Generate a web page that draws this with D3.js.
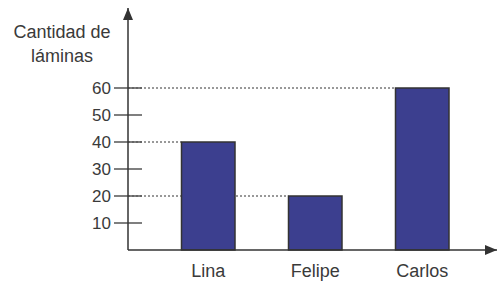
<!DOCTYPE html>
<html>
<head>
<meta charset="utf-8">
<script src="https://cdn.jsdelivr.net/npm/d3@7"></script>
<style>
  body { margin: 0; background: #fff; }
  text { font-family: "Liberation Sans", Arial, sans-serif; fill: #3a3a3a; }
</style>
</head>
<body>
<div id="chart"></div>
<script>
var names = ["Lina", "Felipe", "Carlos"];
var laminas = [40, 20, 60];
var tickValues = [10, 20, 30, 40, 50, 60];
var titleLines = ["Cantidad de", "láminas"];

var width = 497, height = 285;
var axisX = 128, axisY = 250;

var svg = d3.select("#chart").append("svg")
    .attr("width", width)
    .attr("height", height);

var x = d3.scaleBand()
    .domain(names)
    .range([axisX, 502.5])
    .paddingInner(0.5)
    .paddingOuter(0.5);

var y = d3.scaleLinear()
    .domain([0, 60])
    .range([axisY, 88]);

// dashed guide lines from the axis to each bar top
svg.append("g")
    .selectAll("line")
    .data(names)
    .enter()
    .append("line")
    .attr("x1", axisX)
    .attr("x2", function(d) { return x(d); })
    .attr("y1", function(d, i) { return y(laminas[i]); })
    .attr("y2", function(d, i) { return y(laminas[i]); })
    .attr("stroke", "#333")
    .attr("stroke-width", 1)
    .attr("stroke-dasharray", "2,2");

// bars
svg.append("g")
    .selectAll("rect")
    .data(names)
    .enter()
    .append("rect")
    .attr("x", function(d) { return x(d); })
    .attr("y", function(d, i) { return y(laminas[i]); })
    .attr("width", x.bandwidth())
    .attr("height", function(d, i) { return axisY - y(laminas[i]); })
    .attr("fill", "#3c3f8f")
    .attr("stroke", "#333")
    .attr("stroke-width", 1.5);

// y ticks crossing the axis
var ticks = svg.append("g");
ticks.selectAll("line")
    .data(tickValues)
    .enter()
    .append("line")
    .attr("x1", 114)
    .attr("x2", 142)
    .attr("y1", function(d) { return y(d); })
    .attr("y2", function(d) { return y(d); })
    .attr("stroke", "#555")
    .attr("stroke-width", 1.5);

ticks.selectAll("text")
    .data(tickValues)
    .enter()
    .append("text")
    .attr("x", 111)
    .attr("y", function(d) { return y(d); })
    .attr("dy", "0.35em")
    .attr("text-anchor", "end")
    .style("font-size", "17px")
    .text(function(d) { return d; });

// axes with arrows
var arrow = svg.append("defs").append("marker")
    .attr("id", "arrow")
    .attr("viewBox", "0 0 12 10")
    .attr("refX", 12)
    .attr("refY", 5)
    .attr("markerWidth", 12)
    .attr("markerHeight", 10)
    .attr("markerUnits", "userSpaceOnUse")
    .attr("orient", "auto");
arrow.append("path")
    .attr("d", "M0,0L12,5L0,10Z")
    .attr("fill", "#333");

svg.append("line")
    .attr("x1", axisX).attr("y1", axisY)
    .attr("x2", axisX).attr("y2", 8)
    .attr("stroke", "#333")
    .attr("stroke-width", 1.5)
    .attr("marker-end", "url(#arrow)");

svg.append("line")
    .attr("x1", axisX).attr("y1", axisY)
    .attr("x2", 497).attr("y2", axisY)
    .attr("stroke", "#333")
    .attr("stroke-width", 1.5)
    .attr("marker-end", "url(#arrow)");

// category labels
svg.append("g")
    .selectAll("text")
    .data(names)
    .enter()
    .append("text")
    .attr("x", function(d) { return x(d) + x.bandwidth() / 2; })
    .attr("y", 277)
    .attr("text-anchor", "middle")
    .style("font-size", "18px")
    .text(function(d) { return d; });

// y title
svg.append("g")
    .selectAll("text")
    .data(titleLines)
    .enter()
    .append("text")
    .attr("x", 62)
    .attr("y", function(d, i) { return 38 + i * 24; })
    .attr("text-anchor", "middle")
    .style("font-size", "18px")
    .text(function(d) { return d; });
</script>
</body>
</html>
